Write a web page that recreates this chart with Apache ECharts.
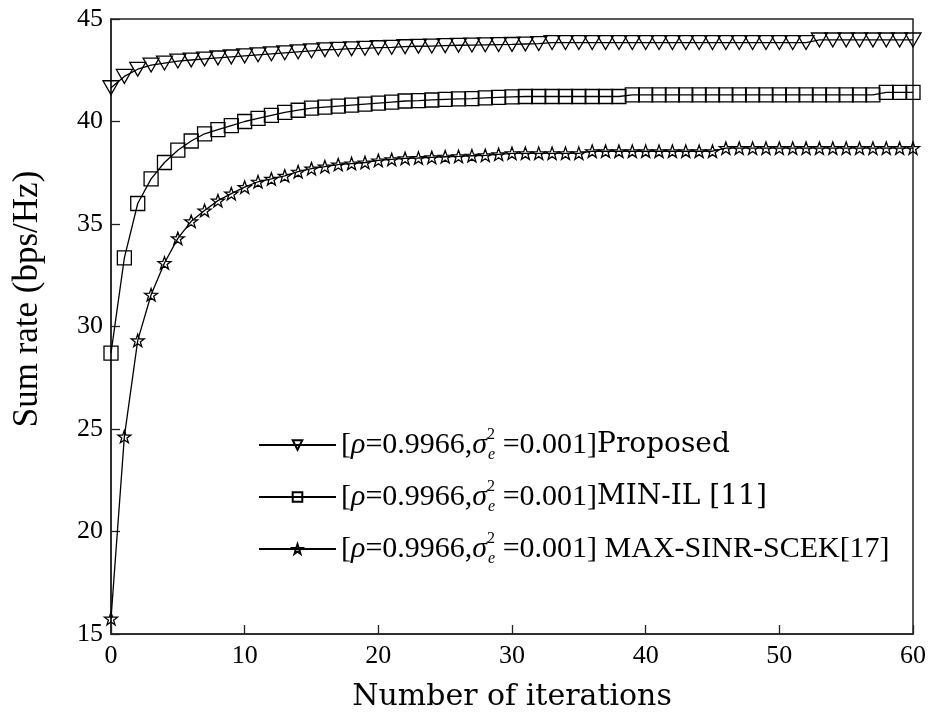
<!DOCTYPE html>
<html>

<head>
    <title>Sum rate vs iterations</title>
    <meta http-equiv="Content-Type" content="text/html; charset=utf-8">
    <style>
        html, body { margin: 0; padding: 0; background: #fff; }
    </style>
</head>

<body>
    <div id="main" style="width: 931px;height:717px;"></div>
    <script src="https://cdn.jsdelivr.net/npm/echarts@6/dist/echarts.min.js"></script>
    <script>
        // 数据 ------------------
        var iterations = [];
        for (var k = 0; k <= 60; k++) iterations.push(k);

        var proposed = [41.65, 42.2, 42.55, 42.75, 42.85, 42.95, 43.0, 43.05, 43.1, 43.15,
            43.2, 43.25, 43.3, 43.35, 43.4, 43.45, 43.5, 43.52, 43.55, 43.57,
            43.6, 43.62, 43.65, 43.67, 43.68, 43.7, 43.72, 43.73, 43.74, 43.75,
            43.76, 43.78, 43.8, 43.85, 43.85, 43.85, 43.85, 43.85, 43.85, 43.85,
            43.85, 43.85, 43.85, 43.85, 43.85, 43.85, 43.85, 43.85, 43.85, 43.85,
            43.85, 43.85, 43.85, 43.98, 43.98, 43.98, 43.98, 43.98, 43.98, 43.98, 43.98];

        var minIL = [28.7, 33.35, 36.0, 37.2, 38.0, 38.6, 39.05, 39.4, 39.6, 39.8,
            40.0, 40.15, 40.3, 40.45, 40.55, 40.65, 40.7, 40.75, 40.8, 40.85,
            40.9, 40.95, 41.0, 41.02, 41.05, 41.08, 41.1, 41.12, 41.15, 41.18,
            41.2, 41.22, 41.22, 41.22, 41.22, 41.22, 41.22, 41.22, 41.22, 41.3,
            41.3, 41.3, 41.3, 41.3, 41.3, 41.3, 41.3, 41.3, 41.3, 41.3,
            41.3, 41.3, 41.3, 41.3, 41.3, 41.3, 41.3, 41.3, 41.42, 41.42, 41.42];

        var maxSinr = [15.75, 24.63, 29.32, 31.55, 33.1, 34.3, 35.13, 35.66, 36.14, 36.48,
            36.8, 37.06, 37.2, 37.35, 37.55, 37.7, 37.8, 37.9, 37.95, 38.0,
            38.1, 38.15, 38.2, 38.22, 38.25, 38.28, 38.3, 38.33, 38.35, 38.4,
            38.45, 38.45, 38.45, 38.45, 38.45, 38.45, 38.55, 38.55, 38.55, 38.55,
            38.55, 38.55, 38.55, 38.55, 38.55, 38.55, 38.7, 38.7, 38.7, 38.7,
            38.7, 38.7, 38.7, 38.7, 38.7, 38.7, 38.7, 38.7, 38.7, 38.7, 38.7];

        var seriesNames = ['Proposed', 'MIN-IL [11]', 'MAX-SINR-SCEK[17]'];
        var xTicks = [0, 10, 20, 30, 40, 50, 60];
        var yTicks = [15, 20, 25, 30, 35, 40, 45];

        // 标记形状
        var triDown = 'path://M0,0 L10,0 L5,8.66 Z';
        var square = 'rect';
        var star = 'path://M10,0 L12.35,6.76 L19.51,6.91 L13.8,11.24 L15.88,18.09 L10,14 L4.12,18.09 L6.2,11.24 L0.49,6.91 L7.65,6.76 Z';

        function pairs(ys) {
            return iterations.map(function (x, i) { return [x, ys[i]]; });
        }

        var serif = '"Liberation Serif", "Times New Roman", serif';
        var wide = '"DejaVu Serif", serif';

        function makeSeries(name, ys, symbol, size) {
            return {
                name: name,
                type: 'line',
                data: pairs(ys),
                symbol: symbol,
                symbolSize: size,
                symbolKeepAspect: true,
                showAllSymbol: true,
                smooth: false,
                lineStyle: { color: '#000', width: 1.3 },
                itemStyle: { color: 'rgba(0,0,0,0)', borderColor: '#000', borderWidth: 1.3 },
                emphasis: { disabled: true },
                z: 3
            };
        }

        var myChart = echarts.init(document.getElementById('main'));
        var option = {
            backgroundColor: '#fff',
            animation: false,
            grid: {
                left: 111, right: 18, top: 19, bottom: 78,
                show: true, borderColor: '#222', borderWidth: 1.5
            },
            legend: {
                orient: 'vertical',
                left: 258,
                top: 427,
                padding: 0,
                itemWidth: 77,
                itemHeight: 12,
                itemGap: 16,
                data: seriesNames,
                formatter: function (name) {
                    var pre = '[{i|ρ}=0.9966,{i|σ}{sup|2}{sub|e} =0.001]';
                    if (name === 'MAX-SINR-SCEK[17]') return pre + ' {m|' + name + '}';
                    return pre + '{n|' + name + '}';
                },
                textStyle: {
                    fontFamily: serif,
                    fontSize: 30,
                    color: '#000',
                    lineHeight: 36,
                    rich: {
                        i: { fontFamily: serif, fontSize: 30, fontStyle: 'italic', color: '#000', lineHeight: 36 },
                        sup: { fontFamily: serif, fontSize: 16, color: '#000', verticalAlign: 'top', width: 1, lineHeight: 36 },
                        sub: { fontFamily: serif, fontSize: 16, fontStyle: 'italic', color: '#000', verticalAlign: 'bottom', lineHeight: 36 },
                        n: { fontFamily: wide, fontSize: 28, color: '#000', lineHeight: 36 },
                        m: { fontFamily: serif, fontSize: 30, color: '#000', lineHeight: 36 }
                    }
                }
            },
            xAxis: {
                type: 'value',
                min: xTicks[0],
                max: xTicks[xTicks.length - 1],
                interval: 10,
                name: 'Number of iterations',
                nameLocation: 'middle',
                nameGap: 48,
                nameTextStyle: { fontFamily: wide, fontSize: 30, color: '#000' },
                axisLine: { show: true, lineStyle: { color: '#222', width: 1.5 } },
                axisTick: { show: true, inside: true, length: 9, lineStyle: { color: '#222', width: 1.3 } },
                axisLabel: { fontFamily: serif, fontSize: 26, color: '#000', margin: 9 },
                splitLine: { show: false }
            },
            yAxis: {
                type: 'value',
                min: yTicks[0],
                max: yTicks[yTicks.length - 1],
                interval: 5,
                name: 'Sum rate (bps/Hz)',
                nameLocation: 'middle',
                nameGap: 66,
                nameTextStyle: { fontFamily: serif, fontSize: 35, color: '#000', padding: [0, 0, 0, 55] },
                axisLine: { show: true, lineStyle: { color: '#222', width: 1.5 } },
                axisTick: { show: true, inside: true, length: 9, lineStyle: { color: '#222', width: 1.3 } },
                axisLabel: { fontFamily: serif, fontSize: 26, color: '#000', margin: 8 },
                splitLine: { show: false }
            },
            series: [
                makeSeries(seriesNames[0], proposed, triDown, 16),
                makeSeries(seriesNames[1], minIL, square, 14),
                makeSeries(seriesNames[2], maxSinr, star, 13)
            ]
        };
        myChart.setOption(option);
    </script>
</body>
</html>
